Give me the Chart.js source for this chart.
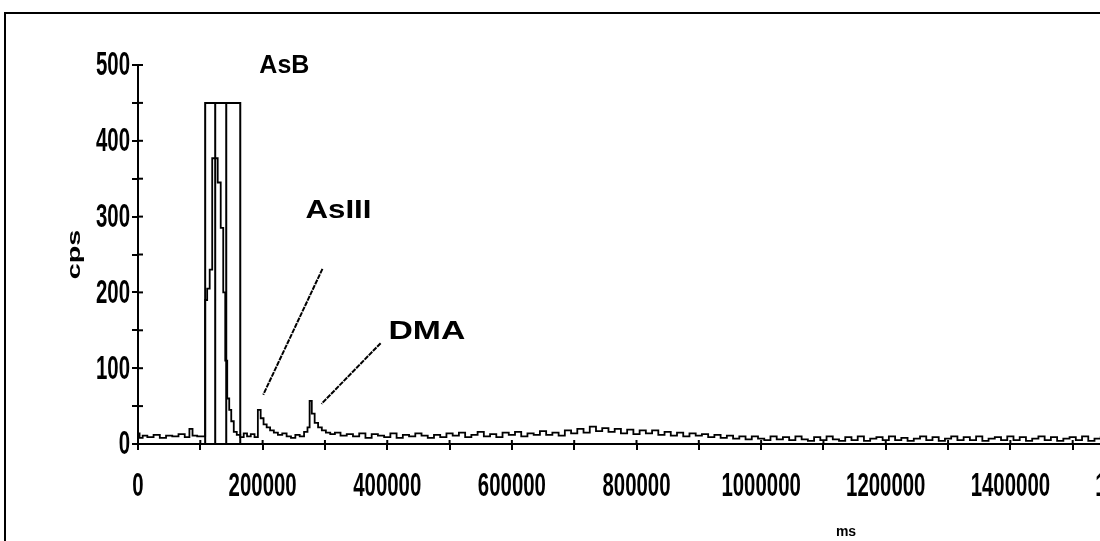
<!DOCTYPE html>
<html>
<head>
<meta charset="utf-8">
<script src="https://cdn.jsdelivr.net/npm/chart.js@4.4.0/dist/chart.umd.min.js"></script>
<style>
  html, body { margin: 0; padding: 0; background: #fff; overflow: hidden; width: 1100px; height: 541px; }
  #frame { position: absolute; left: 4px; top: 12px; width: 1200px; height: 600px; border: 2px solid #000; }
  #chart { position: absolute; left: 0; top: 0; }
</style>
</head>
<body>
<div id="frame"></div>
<canvas id="chart" width="1180" height="541"></canvas>
<script>
// Cromatograma As (HPLC-ICP-MS) — traza cps vs tiempo, pico AsB recortado en caja

/* global Chart */

// tiempo (ms) — muestreo irregular en la zona de picos, luego cada 10000
const timeMs = [
  0, 5000, 10000, 20000, 30000, 40000, 50000, 60000, 70000, 80000,
  85000, 90000, 100000, 106200, 109400, 112600, 117500, 120700, 125500, 130300,
  135200, 138400, 141600, 144800, 148000, 151300, 156100, 160900, 167300, 172000,
  178000, 184000, 190000, 194700, 199000, 204000, 209000, 215000, 221000, 228000,
  235000, 242000, 249000, 256000, 263000, 270000, 274000, 276800, 281000, 286000,
  292000, 298000, 305000, 312000, 320000, 330000, 340000, 350000, 360000, 370000,
  380000, 390000, 400000, 410000, 420000, 430000, 440000, 450000, 460000, 470000,
  480000, 490000, 500000, 510000, 520000, 530000, 540000, 550000, 560000, 570000,
  580000, 590000, 600000, 610000, 620000, 630000, 640000, 650000, 660000, 670000,
  680000, 690000, 700000, 710000, 720000, 730000, 740000, 750000, 760000, 770000,
  780000, 790000, 800000, 810000, 820000, 830000, 840000, 850000, 860000, 870000,
  880000, 890000, 900000, 910000, 920000, 930000, 940000, 950000, 960000, 970000,
  980000, 990000, 1000000, 1010000, 1020000, 1030000, 1040000, 1050000, 1060000, 1070000,
  1080000, 1090000, 1100000, 1110000, 1120000, 1130000, 1140000, 1150000, 1160000, 1170000,
  1180000, 1190000, 1200000, 1210000, 1220000, 1230000, 1240000, 1250000, 1260000, 1270000,
  1280000, 1290000, 1300000, 1310000, 1320000, 1330000, 1340000, 1350000, 1360000, 1370000,
  1380000, 1390000, 1400000, 1410000, 1420000, 1430000, 1440000, 1450000, 1460000, 1470000,
  1480000, 1490000, 1500000, 1510000, 1520000, 1530000, 1540000, 1550000, 1560000, 1570000,
  1580000, 1590000, 1600000,
];

// cps
const cpsValues = [
  14, 8, 11, 9, 12, 8, 11, 10, 13, 9,
  20, 11, 10, 10, 190, 205, 230, 377, 377, 345,
  285, 200, 110, 60, 45, 30, 16, 12, 9, 14,
  10, 13, 9, 45, 34, 26, 22, 18, 15, 12,
  14, 10, 8, 12, 10, 16, 22, 57, 40, 28,
  22, 18, 15, 13, 15, 11, 13, 10, 14, 8,
  13, 11, 9, 14, 8, 12, 10, 14, 11, 8,
  12, 9, 14, 11, 15, 9, 12, 16, 10, 13,
  9, 15, 12, 16, 10, 14, 12, 17, 12, 15,
  11, 18, 14, 20, 15, 23, 17, 21, 16, 20,
  14, 19, 13, 18, 14, 18, 12, 16, 11, 15,
  10, 14, 11, 13, 9, 12, 8, 11, 7, 10,
  6, 10, 7, 5, 10, 6, 9, 5, 10, 6,
  4, 9, 5, 10, 6, 4, 9, 5, 10, 4,
  7, 9, 5, 10, 5, 8, 4, 7, 10, 5,
  9, 4, 7, 10, 5, 9, 5, 10, 4, 7,
  9, 5, 10, 5, 9, 4, 7, 10, 5, 9,
  4, 7, 9, 5, 10, 4, 7, 9, 5, 10,
  6, 9, 5,
];

// caja del pico AsB (saturado): bordes y líneas internas
const boxEdgesMs  = [107800, 164100];
const boxInnerMs  = [123900, 141600];
const boxTopCps   = 450;

// ejes
const xMaxMs      = 1600000;
const xStepMs     = 100000;
const xLabelEvery = 200000;
const yMaxCps     = 500;
const yStepCps    = 50;
const yLabelEvery = 100;

const peakNames = ['AsB', 'AsIII', 'DMA'];
const yTitle = 'cps';
const xUnit = 'ms';

const LABEL_FONT = "'Liberation Sans', Arial, sans-serif";

// anotaciones en coordenadas de datos
const peakLabels = [
  { text: peakNames[0], t: 194700, cps: 499, stretch: 1.0 },
  { text: peakNames[1], t: 268700, cps: 307, stretch: 1.25 },
  { text: peakNames[2], t: 402000, cps: 148, stretch: 1.35 },
];
const arrows = [
  { t0: 296000, c0: 231, t1: 201000, c1: 65 },
  { t0: 389400, c0: 133, t1: 294500, c1: 53 },
];

function vline(t) {
  return [{ x: t, y: 0 }, { x: t, y: boxTopCps }];
}

const traceData = timeMs.map((t, i) => ({ x: t, y: cpsValues[i] }));
const boxData = [
  { x: boxEdgesMs[0], y: 0 }, { x: boxEdgesMs[0], y: boxTopCps },
  { x: boxEdgesMs[1], y: boxTopCps }, { x: boxEdgesMs[1], y: 0 },
];

/** Texto comprimido en horizontal, como los números del escaneo original */
function squashed(ctx, text, px, py, align, sx, sy) {
  ctx.save();
  ctx.translate(px, py);
  ctx.scale(sx, sy);
  ctx.textAlign = align;
  ctx.textBaseline = 'middle';
  ctx.fillText(text, 0, 0);
  ctx.restore();
}

/** Números de ejes, etiquetas, flechas y medias marcas internas */
const overlayPlugin = {
  id: 'overlay',
  afterDraw(chart) {
    const { ctx, scales: { x, y } } = chart;
    ctx.save();
    ctx.strokeStyle = '#000';
    ctx.fillStyle = '#000';

    // las marcas del original cruzan el eje
    ctx.lineWidth = 2;
    y.ticks.forEach(tk => {
      const py = y.getPixelForValue(tk.value);
      ctx.beginPath(); ctx.moveTo(x.left, py); ctx.lineTo(x.left + 5, py); ctx.stroke();
    });
    x.ticks.forEach(tk => {
      const px = x.getPixelForValue(tk.value);
      ctx.beginPath(); ctx.moveTo(px, y.bottom); ctx.lineTo(px, y.bottom - 4); ctx.stroke();
    });

    // números de los ejes (estrechos y altos)
    ctx.font = 'bold 34px ' + LABEL_FONT;
    y.ticks.forEach(tk => {
      if (tk.value % yLabelEvery !== 0) return;
      squashed(ctx, String(tk.value), x.left - 8, y.getPixelForValue(tk.value) + 1, 'right', 0.6, 1);
    });
    x.ticks.forEach(tk => {
      if (tk.value % xLabelEvery !== 0) return;
      squashed(ctx, String(tk.value), x.getPixelForValue(tk.value), y.bottom + 43, 'center', 0.6, 1);
    });

    // título del eje y, girado
    ctx.save();
    ctx.translate(x.left - 63, (y.top + y.bottom) / 2);
    ctx.rotate(-Math.PI / 2);
    ctx.font = 'bold 18px ' + LABEL_FONT;
    squashed(ctx, yTitle, 0, 0, 'center', 1.6, 1);
    ctx.restore();

    // flechas punteadas
    ctx.lineWidth = 2;
    ctx.setLineDash([5, 1]);
    arrows.forEach(a => {
      ctx.beginPath();
      ctx.moveTo(x.getPixelForValue(a.t0), y.getPixelForValue(a.c0));
      ctx.lineTo(x.getPixelForValue(a.t1), y.getPixelForValue(a.c1));
      ctx.stroke();
    });
    ctx.setLineDash([]);

    // nombres de los picos
    ctx.font = 'bold 25px ' + LABEL_FONT;
    peakLabels.forEach(l => {
      squashed(ctx, l.text, x.getPixelForValue(l.t), y.getPixelForValue(l.cps), 'left', l.stretch, 1);
    });

    // unidad del eje x, cortada por el borde inferior
    ctx.font = 'bold 14px ' + LABEL_FONT;
    ctx.textAlign = 'center';
    ctx.textBaseline = 'alphabetic';
    ctx.fillText(xUnit, 846, 536);
    ctx.restore();
  },
};

new Chart(document.getElementById('chart'), {
  type: 'scatter',
  data: {
    datasets: [
      { data: boxData, showLine: true, borderColor: '#000', borderWidth: 2, pointRadius: 0 },
      { data: vline(boxInnerMs[0]), showLine: true, borderColor: '#000', borderWidth: 2, pointRadius: 0 },
      { data: vline(boxInnerMs[1]), showLine: true, borderColor: '#000', borderWidth: 2, pointRadius: 0 },
      { data: traceData, showLine: true, stepped: 'middle', borderColor: '#000', borderWidth: 1.8, pointRadius: 0 },
    ],
  },
  options: {
    responsive: false,
    animation: false,
    layout: { padding: { left: 66, right: 45, top: 65, bottom: 37 } },
    plugins: { legend: { display: false }, tooltip: { enabled: false } },
    scales: {
      x: {
        type: 'linear',
        min: 0,
        max: xMaxMs,
        border: { color: '#000', width: 2 },
        grid: { drawOnChartArea: false, color: '#000', lineWidth: 2, tickLength: 6 },
        ticks: { stepSize: xStepMs, autoSkip: false, display: false },
        afterFit: s => { s.height = 60; },
      },
      y: {
        min: 0,
        max: yMaxCps,
        border: { color: '#000', width: 2 },
        grid: { drawOnChartArea: false, color: '#000', lineWidth: 2, tickLength: 6 },
        ticks: { stepSize: yStepCps, display: false },
        afterFit: s => { s.width = 72; },
      },
    },
  },
  plugins: [overlayPlugin],
});
</script>
</body>
</html>
